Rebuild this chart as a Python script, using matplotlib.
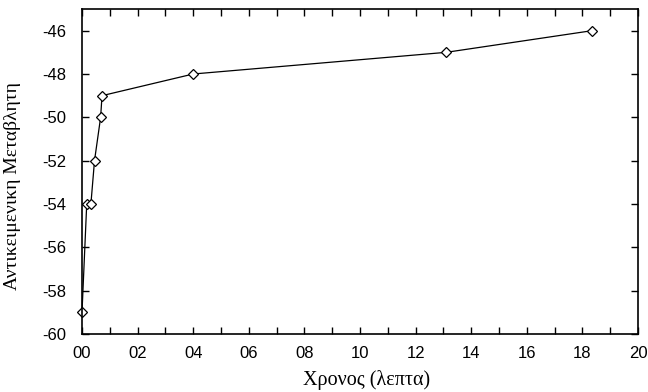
import matplotlib
matplotlib.use("Agg")
import matplotlib.pyplot as plt
from matplotlib.ticker import MultipleLocator, FuncFormatter

time_min = [0.0, 0.17, 0.32, 0.45, 0.67, 0.72, 4.0, 13.1, 18.35]
objective = [-59, -54, -54, -52, -50, -49, -48, -47, -46]
x_label = "Χρονος (λεπτα)"
y_label = "Αντικειμενικη Μεταβλητη"

fig = plt.figure(figsize=(6.48, 3.92), dpi=100)
ax = fig.add_axes([82/648, 58/392, (638-82)/648, (334-9)/392])

ax.plot(time_min, objective, color="black", linewidth=0.9, marker="D",
        markersize=5.5, markerfacecolor="white", markeredgecolor="black",
        markeredgewidth=0.9, clip_on=False)

ax.set_xlim(0, 20)
ax.set_ylim(-60, -45)
ax.xaxis.set_major_locator(MultipleLocator(1))
ax.xaxis.set_major_formatter(FuncFormatter(lambda v, p: f"{int(round(v)):02d}" if int(round(v)) % 2 == 0 else ""))
ax.set_yticks(list(range(-60, -45, 2)))
ax.set_yticklabels([str(v) for v in range(-60, -45, 2)])

for lab in ax.get_xticklabels() + ax.get_yticklabels():
    lab.set_fontfamily("Liberation Sans")
    lab.set_fontsize(12)

ax.tick_params(direction="in", length=5, width=1, top=True, right=True)
ax.tick_params(axis="y", pad=11)
ax.tick_params(axis="x", pad=9)
for s in ax.spines.values():
    s.set_linewidth(1.2)

ax.set_xlabel(x_label, fontfamily="Liberation Serif", fontsize=14.5)
ax.set_ylabel(y_label, fontfamily="Liberation Serif", fontsize=14)
ax.xaxis.set_label_coords(0.511, -0.112)
ax.yaxis.set_label_coords(-0.109, 0.455)

fig.savefig("out.png", dpi=100)
